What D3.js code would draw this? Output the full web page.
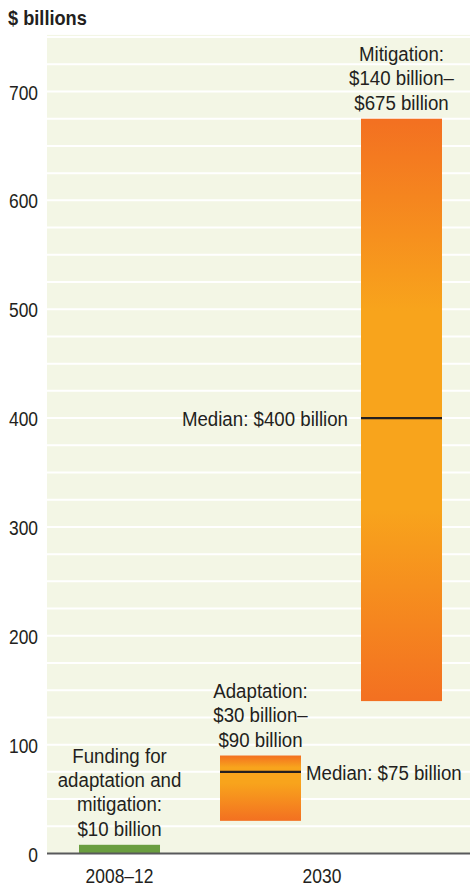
<!DOCTYPE html>
<html>
<head>
<meta charset="utf-8">
<script src="https://cdn.jsdelivr.net/npm/d3@7"></script>
<style>
  body { margin: 0; background: #fff; }
  svg { display: block; font-family: "Liberation Sans", Arial, sans-serif; }
  text { fill: #231f20; }
</style>
</head>
<body>
<svg id="chart"></svg>
<script>
// values
const bars = ['funding', 'adaptation', 'mitigation']
const lows = [0, 30, 140]
const highs = [8, 90, 675]
const medians = [null, 75, 400]
const barLabels = [
  ['Funding for', 'adaptation and', 'mitigation:', '$10 billion'],
  ['Adaptation:', '$30 billion–', '$90 billion'],
  ['Mitigation:', '$140 billion–', '$675 billion']
]
const medianLabels = [null, 'Median: $75 billion', 'Median: $400 billion']
const yTicks = [0, 100, 200, 300, 400, 500, 600, 700]
const periods = ['2008–12', '2030']

const width = 470
const height = 887
const plotLeft = 47
const lineH = 24.3
// no condensed font installed, so squeeze Liberation Sans horizontally
const squeeze = 0.89
const squeezeNum = 0.83

const svg = d3.select('#chart')
  .attr('width', width)
  .attr('height', height)

const x = d3.scaleBand()
  .domain(bars)
  .range([49, 472])
  .paddingInner(0.4255)
  .paddingOuter(0.2128)

const y = d3.scaleLinear()
  .domain([0, 700])
  .range([853.5, 91.5])

function addText(parent, tx, ty, sx) {
  return parent.append('text')
    .attr('font-size', 21)
    .attr('transform', `translate(${tx},${ty}) scale(${sx},1)`)
}

// gradients for the ranges
const defs = svg.append('defs')
function grad(id, stops) {
  const g = defs.append('linearGradient')
    .attr('id', id)
    .attr('x1', 0).attr('y1', 0).attr('x2', 0).attr('y2', 1)
  stops.forEach(s => g.append('stop').attr('offset', s[0]).attr('stop-color', s[1]))
}
grad('g-mitigation', [[0, '#f37021'], [0.33, '#f8a41c'], [0.67, '#f8a41c'], [1, '#f37021']])
grad('g-adaptation', [[0, '#f37021'], [0.18, '#f8a41c'], [0.42, '#f8a41c'], [1, '#f37021']])

// plot background
svg.append('rect')
  .attr('x', plotLeft)
  .attr('y', y(752))
  .attr('width', width - plotLeft)
  .attr('height', y(0) - y(752))
  .attr('fill', '#f3f6e5')

// white gridlines every 25
svg.append('g')
  .selectAll('line')
  .data(d3.range(25, 751, 25))
  .join('line')
    .attr('x1', plotLeft)
    .attr('x2', width)
    .attr('y1', d => y(d))
    .attr('y2', d => y(d))
    .attr('stroke', '#fff')
    .attr('stroke-width', 2)

// y axis
const yAxis = svg.append('g')
  .attr('transform', `translate(38, 0)`)
  .call(d3.axisLeft(y).tickValues(yTicks).tickSize(0).tickPadding(0))
yAxis.select('.domain').remove()
yAxis.selectAll('text')
  .attr('font-size', 21)
  .attr('fill', '#231f20')
  .attr('font-family', null)
  .attr('dy', '0.36em')
  .attr('transform', `scale(${squeezeNum},1)`)

addText(svg, 8, 25, 0.91)
  .attr('font-size', 20)
  .attr('font-weight', 'bold')
  .text('$ billions')

// bars
svg.append('g')
  .selectAll('rect')
  .data(bars)
  .join('rect')
    .attr('x', d => x(d))
    .attr('width', x.bandwidth())
    .attr('y', (d, i) => y(highs[i]))
    .attr('height', (d, i) => y(lows[i]) - y(highs[i]))
    .attr('fill', d => d === 'funding' ? '#6a9e3f' : `url(#g-${d})`)

// median lines
const withMedian = bars.filter((d, i) => medians[i] !== null)
svg.append('g')
  .selectAll('line')
  .data(withMedian)
  .join('line')
    .attr('x1', d => x(d))
    .attr('x2', d => x(d) + x.bandwidth())
    .attr('y1', d => y(medians[bars.indexOf(d)]))
    .attr('y2', d => y(medians[bars.indexOf(d)]))
    .attr('stroke', '#231f20')
    .attr('stroke-width', 2.2)

// median labels: adaptation to the right, mitigation to the left
withMedian.forEach(d => {
  const i = bars.indexOf(d)
  const left = d === 'mitigation'
  addText(svg, left ? x(d) - 13 : x(d) + x.bandwidth() + 5, y(medians[i]) + 8, squeeze)
    .attr('text-anchor', left ? 'end' : 'start')
    .text(medianLabels[i])
})

// range labels stacked above each bar
bars.forEach((d, i) => {
  const lines = barLabels[i]
  const t = addText(svg, x(d) + x.bandwidth() / 2, 0, squeeze)
    .attr('text-anchor', 'middle')
  lines.forEach((s, j) => {
    t.append('tspan')
      .attr('x', 0)
      .attr('y', y(highs[i]) - 9 - (lines.length - 1 - j) * lineH)
      .text(s)
  })
})

// baseline
svg.append('line')
  .attr('x1', plotLeft)
  .attr('x2', width)
  .attr('y1', y(0))
  .attr('y2', y(0))
  .attr('stroke', '#58595b')
  .attr('stroke-width', 2)

// period labels
const periodX = [
  x('funding') + x.bandwidth() / 2,
  (x('adaptation') + x('mitigation') + x.bandwidth()) / 2 - 9
]
periods.forEach((p, i) => {
  addText(svg, periodX[i], 883, squeezeNum)
    .attr('text-anchor', 'middle')
    .text(p)
})
</script>
</body>
</html>
